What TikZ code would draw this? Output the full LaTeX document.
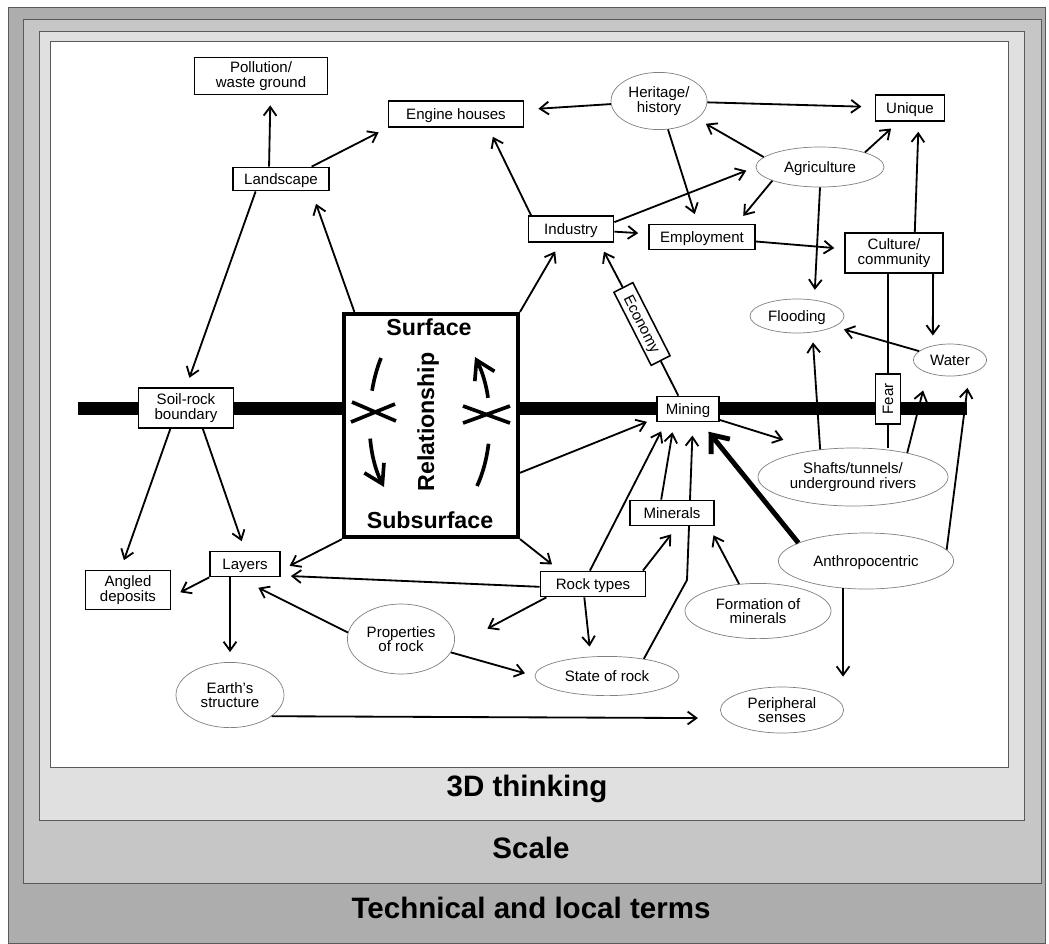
\documentclass[tikz,border=0pt]{standalone}
\usepackage{fontspec}
\setmainfont{Liberation Sans}
\usetikzlibrary{arrows.meta, shapes.geometric}

\definecolor{termsgrey}{HTML}{ADADAD}
\definecolor{scalegrey}{HTML}{C6C6C6}
\definecolor{thinkgrey}{HTML}{E0E0E0}
\definecolor{framegrey}{HTML}{5A5A5A}

\tikzset{
	box/.style = {draw, fill = white, line width = 1.1pt, inner sep = 1pt, align = center, font = \fontsize{10.7}{10.5}\selectfont},
	oval/.style = {ellipse, draw = gray, fill = white, line width = 0.5pt, inner sep = 0pt, align = center, font = \fontsize{10.7}{10.5}\selectfont},
	oneline/.style = {text height = 0.96em, text depth = 0.24em},
	link/.style = {->, line width = 1.3pt, shorten > = 0.25cm},
	frame/.style = {draw = framegrey, line width = 0.6pt},
	level/.style = {font = \fontsize{21}{25}\selectfont\bfseries},
	bold/.style = {font = \fontsize{16.5}{18}\selectfont\bfseries}
}

\begin{document}
\begin{tikzpicture}[x = 0.025cm, y = -0.025cm, >={Straight Barb[length = 0.22cm, width = 0.32cm]}]
	\useasboundingbox (0, 0) rectangle (1049, 943);
	
	% frames
	\filldraw[frame, fill = termsgrey] (8, 7) rectangle (1045, 943);
	\filldraw[frame, fill = scalegrey] (23, 19) rectangle (1041, 883);
	\filldraw[frame, fill = thinkgrey] (39, 31) rectangle (1024, 820);
	\filldraw[frame, fill = white] (50, 41) rectangle (1008, 767);
	\node[level] (thinking) at (527, 789) {3D thinking};
	\node[level] (scale) at (531, 848) {Scale};
	\node[level] (terms) at (531, 908) {Technical and local terms};
	
	% ground line
	\draw[line width = 9.2pt] (78, 408.5) -- (967, 408.5);
	
	% surface / subsurface
	\node[draw, fill = white, line width = 2.8pt, minimum width = 4.35cm, minimum height = 5.58cm] (surface) at (431, 425.5) {};
	\node[bold] (surflabel) at (429, 327) {Surface};
	\node[bold] (sublabel) at (430, 520) {Subsurface};
	\node[bold, rotate = 90] (relation) at (428, 422) {Relationship};
	\draw[line width = 2.6pt, dash pattern = on 0.85cm off 1.2cm on 3cm off 1cm, -{Straight Barb[length = 0.45cm, width = 0.55cm]}] (381, 358) .. controls (366, 395) and (365, 450) .. (384, 487);
	\draw[line width = 2.6pt, dash pattern = on 1.1cm off 1.15cm on 3cm off 1cm, -{Straight Barb[length = 0.45cm, width = 0.55cm]}] (477, 486) .. controls (494, 450) and (494, 395) .. (475, 357);
	\draw[line width = 2.6pt] (352, 402) -- (396, 421) (351, 422) -- (395, 404);
	\draw[line width = 2.6pt] (463, 406) -- (510, 423) (463, 423) -- (510, 406);
	
	% boxes
	\node[box, minimum width = 3.33cm, minimum height = 0.93cm] (pollution) at (261, 76) {Pollution/\\waste ground};
	\node[box, oneline, minimum width = 3.38cm, minimum height = 0.65cm] (engine) at (456, 114) {Engine houses};
	\node[box, oneline, minimum width = 2.4cm, minimum height = 0.58cm] (landscape) at (281, 179) {Landscape};
	\node[box, oneline, minimum width = 1.73cm, minimum height = 0.65cm] (unique) at (910, 108) {Unique};
	\node[box, oneline, minimum width = 2.13cm, minimum height = 0.65cm] (industry) at (571, 229) {Industry};
	\node[box, oneline, minimum width = 2.65cm, minimum height = 0.63cm] (employment) at (702, 237) {Employment};
	\node[box, minimum width = 2.45cm, minimum height = 1cm] (culture) at (894, 253) {Culture/\\community};
	\node[box, minimum width = 2.38cm, minimum height = 1cm] (soilrock) at (186, 408) {Soil-rock\\boundary};
	\node[box, oneline, minimum width = 1.55cm, minimum height = 0.63cm] (mining) at (688, 409) {Mining};
	\node[box, oneline, rotate = 90, minimum width = 1.25cm, minimum height = 0.63cm] (fear) at (888, 399) {Fear};
	\node[box, oneline, rotate = -63, minimum width = 2.05cm, minimum height = 0.53cm] (economy) at (642, 324) {Economy};
	\node[box, oneline, minimum width = 1.75cm, minimum height = 0.63cm] (layers) at (245, 564) {Layers};
	\node[box, minimum width = 2.13cm, minimum height = 0.98cm] (angled) at (128, 590) {Angled\\deposits};
	\node[box, oneline, minimum width = 2.63cm, minimum height = 0.63cm] (rocktypes) at (593, 584) {Rock types};
	
	% ovals
	\node[oval, minimum width = 2.4cm, minimum height = 1.43cm] (heritage) at (659, 101) {Heritage/\\history};
	\node[oval, oneline, minimum width = 3.2cm, minimum height = 1cm] (agriculture) at (820, 167) {Agriculture};
	\node[oval, oneline, minimum width = 2.35cm, minimum height = 0.85cm] (flooding) at (797, 316) {Flooding};
	\node[oval, oneline, minimum width = 1.83cm, minimum height = 0.8cm] (water) at (950, 360) {Water};
	\node[oval, minimum width = 4.75cm, minimum height = 1.45cm] (shafts) at (853, 477) {Shafts/tunnels/\\underground rivers};
	\node[oval, oneline, minimum width = 4.38cm, minimum height = 1.4cm] (anthro) at (866, 561) {Anthropocentric};
	\node[oval, minimum width = 3.65cm, minimum height = 1.38cm] (formation) at (758, 611) {Formation of\\minerals};
	\node[oval, oneline, minimum width = 3.6cm, minimum height = 0.98cm] (state) at (607, 676) {State of rock};
	\node[oval, minimum width = 2.68cm, minimum height = 1.75cm] (properties) at (401, 639) {Properties\\of rock};
	\node[oval, minimum width = 2.7cm, minimum height = 1.63cm] (earth) at (230, 695) {Earth's\\structure};
	\node[oval, minimum width = 3.08cm, minimum height = 1.15cm] (peripheral) at (782, 710) {Peripheral\\senses};
	
	% state of rock runs behind minerals
	\coordinate (bend) at (687, 580);
	\draw[link, shorten > = 0.33cm] (state.25) -- (bend) -- (mining.-70);
	\node[box, oneline, minimum width = 2.1cm, minimum height = 0.63cm] (minerals) at (672, 513) {Minerals};
	
	% arrows above ground
	\draw[link] (landscape.134) -- (pollution.-64);
	\draw[link] (landscape.22) -- (engine.south west);
	\draw[link] (landscape.-154) -- (soilrock.north);
	\draw[link, shorten > = 0.33cm] (surface.124) -- (landscape.-22);
	\draw[link] (surface.north east) -- (industry.-128);
	\draw[link] (industry.161) -- (engine.-23);
	\draw[link] (industry) -- (employment);
	\draw[link] (industry.9) -- (agriculture.west);
	\draw[link, shorten > = 0.35cm] (heritage) -- (engine);
	\draw[link, shorten > = 0.33cm] (heritage) -- (unique);
	\draw[link] (heritage) -- (employment);
	\draw[link] (agriculture.170) -- (heritage.-25);
	\draw[link] (agriculture.18) -- (unique.-130);
	\draw[link] (agriculture.-164) -- (employment.21);
	\draw[link] (agriculture.south) -- (flooding.43);
	\draw[link] (employment) -- (culture);
	\draw[link] (culture.45) -- (unique.-58);
	\draw[link] (culture.-28) -- (water.140);
	\draw[line width = 1.3pt] (fear |- culture.south) -- (fear);
	\draw[line width = 1.3pt] (fear) -- (fear |- shafts.north);
	\draw[link] (water) -- (flooding);
	\draw[line width = 1.3pt] (mining.126) -- (economy);
	\draw[link] (economy) -- (industry.-26);
	
	% arrows below ground
	\draw[link] (shafts.140) -- (flooding.-47);
	\draw[link, shorten > = 0.45cm] (shafts.24) -- (water.-150);
	\draw[link, shorten > = 0.35cm] (anthro.8) -- (water.-36);
	\draw[link, shorten > = 0.85cm] (mining.-19) -- (shafts.144);
	\draw[-{Straight Barb[length = 0.38cm, width = 0.6cm]}, line width = 3.5pt, shorten > = 0.3cm] (anthro.165) -- (mining.-46);
	\draw[link] (anthro.-130) -- (anthro.-130 |- peripheral.north);
	\draw[link] (surface.-28) -- (mining.-164);
	\draw[link] (rocktypes.103) -- (mining.-149);
	\draw[link] (minerals.129) -- (mining.-136);
	\draw[link] (rocktypes.15) -- (minerals.-68);
	\draw[link] (formation.125) -- (minerals.-20);
	\draw[link] (surface.south west) -- (layers.-10);
	\draw[link] (surface.south east) -- (rocktypes.158);
	\draw[link] (soilrock.-127) -- (angled.110);
	\draw[link] (soilrock.-51) -- (layers.north);
	\draw[link] (layers.south west) -- (angled.-9);
	\draw[link] (earth |- layers.south) -- (earth);
	\draw[link] (rocktypes.183) -- (layers.-18);
	\draw[link, shorten > = 0.58cm] (properties.173) -- (layers.-119);
	\draw[link] (properties.-15) -- (state.west);
	\draw[link, shorten > = 0.95cm] (rocktypes.-164) -- (properties.-8);
	\draw[link] (rocktypes.-123) -- (state.130);
	\draw[link, shorten > = 0.65cm] (earth.-27) -- (peripheral.188);
	
\end{tikzpicture}
\end{document}
